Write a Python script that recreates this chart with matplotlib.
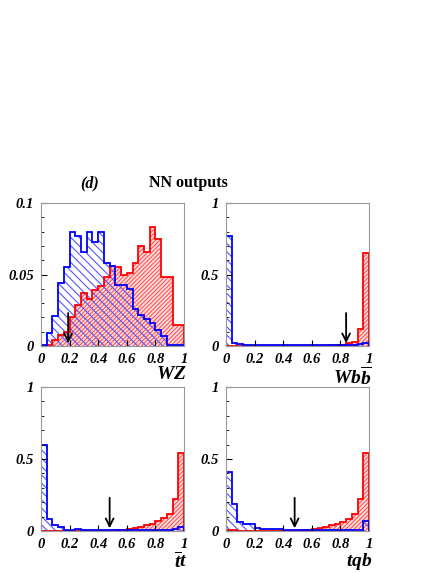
import numpy as np
import matplotlib.pyplot as plt

plt.rcParams.update({
    "font.family": "Liberation Serif",
    "font.weight": "bold",
    "hatch.linewidth": 0.8,
    "mathtext.fontset": "custom",
    "mathtext.rm": "Liberation Serif:bold",
    "mathtext.it": "Liberation Serif:bold:italic",
    "mathtext.bf": "Liberation Serif:bold",
})

edges = np.linspace(0, 1, 26)

wz_bkg = [0.001, 0.009, 0.021, 0.044, 0.055, 0.080, 0.077, 0.066, 0.080, 0.073,
          0.080, 0.058, 0.056, 0.043, 0.043, 0.040, 0.026, 0.022, 0.019, 0.016,
          0.011, 0.007, 0.001, 0.001, 0.001]
wz_sig = [0.000, 0.0005, 0.004, 0.008, 0.010, 0.020, 0.029, 0.037, 0.033, 0.039,
          0.042, 0.048, 0.056, 0.055, 0.050, 0.051, 0.058, 0.070, 0.066, 0.083,
          0.075, 0.048, 0.048, 0.015, 0.015]
wbb_bkg = [0.77, 0.02, 0.012, 0.01, 0.008, 0.007, 0.006, 0.006, 0.005, 0.005,
           0.005, 0.005, 0.005, 0.005, 0.005, 0.005, 0.005, 0.005, 0.005, 0.005,
           0.006, 0.008, 0.01, 0.015, 0.02]
wbb_sig = [0.0, 0.0, 0.0, 0.0, 0.0, 0.0, 0.0, 0.0, 0.0, 0.0,
           0.0, 0.0, 0.0, 0.0, 0.0, 0.001, 0.002, 0.003, 0.005, 0.008,
           0.01, 0.02, 0.03, 0.12, 0.65]
tt_bkg = [0.60, 0.08, 0.04, 0.03, 0.01, 0.01, 0.012, 0.01, 0.01, 0.01,
          0.01, 0.008, 0.006, 0.006, 0.006, 0.006, 0.008, 0.01, 0.01, 0.01,
          0.01, 0.01, 0.01, 0.012, 0.03]
tt_sig = [0.003, 0.002, 0.0, 0.0, 0.0, 0.0, 0.0, 0.0, 0.0, 0.0,
          0.0, 0.002, 0.003, 0.005, 0.01, 0.015, 0.02, 0.03, 0.04, 0.05,
          0.07, 0.09, 0.12, 0.22, 0.54]
tqb_bkg = [0.41, 0.19, 0.06, 0.05, 0.05, 0.02, 0.015, 0.015, 0.012, 0.012,
           0.01, 0.01, 0.01, 0.01, 0.01, 0.008, 0.008, 0.008, 0.008, 0.008,
           0.008, 0.008, 0.008, 0.008, 0.07]
tqb_sig = [0.01, 0.005, 0.0, 0.0, 0.0, 0.0, 0.0, 0.0, 0.0, 0.0,
           0.0, 0.002, 0.003, 0.005, 0.01, 0.015, 0.02, 0.03, 0.04, 0.05,
           0.06, 0.08, 0.12, 0.22, 0.54]

panels = [
    ("$WZ$", wz_bkg, wz_sig, 0.19, 0.1, [0, 0.05, 0.1], ["0", "0.05", "0.1"], 0.025),
    ("$Wb\\overline{b}$", wbb_bkg, wbb_sig, 0.84, 1.0, [0, 0.5, 1], ["0", "0.5", "1"], 0.25),
    ("$\\overline{t}t$", tt_bkg, tt_sig, 0.48, 1.0, [0, 0.5, 1], ["0", "0.5", "1"], 0.25),
    ("$tqb$", tqb_bkg, tqb_sig, 0.48, 1.0, [0, 0.5, 1], ["0", "0.5", "1"], 0.25),
]

W, H = 443, 573
fig = plt.figure(figsize=(W / 100, H / 100), dpi=100)
boxes = [(41, 203, 184, 346), (226, 203, 369, 346),
         (41, 387, 184, 531), (226, 387, 369, 531)]

for (x0, y0, x1, y1), (lab, bkg, sig, cut, ymax, yt, ytl, alen) in zip(boxes, panels):
    ax = fig.add_axes([x0 / W, 1 - y1 / H, (x1 - x0) / W, (y1 - y0) / H])
    ax.stairs(sig, edges, fill=True, facecolor="#ffdddd", edgecolor="#ff5555",
              hatch="////////", linewidth=0)
    ax.stairs(bkg, edges, fill=True, facecolor="none", edgecolor="#5555ff",
              hatch="\\\\\\\\", linewidth=0)
    ax.stairs(sig, edges, color="red", linewidth=1.3)
    ax.stairs(bkg, edges, color="blue", linewidth=1.3)
    ax.annotate("", xy=(cut, 0), xytext=(cut, alen),
                arrowprops=dict(arrowstyle="->", color="black", lw=1.3,
                                mutation_scale=14))
    ax.set_xlim(0, 1)
    ax.set_ylim(0, ymax)
    ax.set_xticks([0, 0.2, 0.4, 0.6, 0.8, 1])
    ax.set_xticklabels(["0", "0.2", "0.4", "0.6", "0.8", "1"],
                       fontstyle="italic", fontweight="bold", fontsize=10.5)
    ax.set_yticks(yt)
    ax.set_yticklabels(ytl, fontstyle="italic", fontweight="bold", fontsize=10.5)
    ax.set_yticks(np.linspace(0, ymax, 11), minor=True)
    ax.tick_params(direction="in", length=4, which="major", pad=5)
    ax.tick_params(direction="in", length=2, which="minor")
    ax.tick_params(axis="x", which="minor", bottom=False)
    for s in ax.spines.values():
        s.set_color("#999999")
    ax.text(1.02, -0.14, lab, transform=ax.transAxes, ha="right", va="top",
            fontsize=14)

fig.text(90 / W, 1 - 183 / H, "(d)", fontstyle="italic", fontweight="bold",
         fontsize=11.5, ha="center", va="center")
fig.text(188 / W, 1 - 183 / H, "NN outputs", fontweight="bold",
         fontsize=11.5, ha="center", va="center")

fig.savefig("out.png", dpi=100)
